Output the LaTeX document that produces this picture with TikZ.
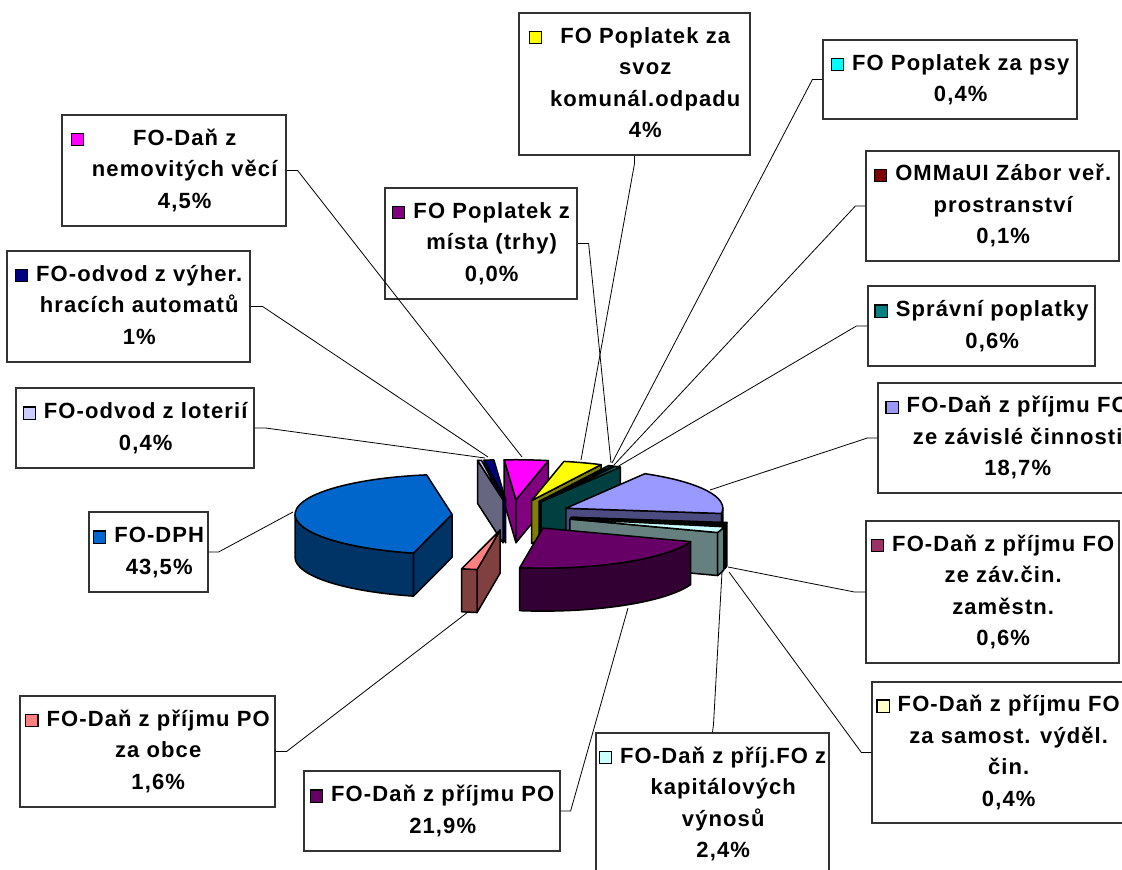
\documentclass[tikz,border=0pt]{standalone}
\usepackage{fontspec}
\setmainfont{Liberation Sans}[LetterSpace=5]
\usetikzlibrary{calc}

\definecolor{cNemov}{HTML}{FF00FF}
\definecolor{cSvoz}{HTML}{FFFF00}
\definecolor{cTrhy}{HTML}{800080}
\definecolor{cPsy}{HTML}{00FFFF}
\definecolor{cZabor}{HTML}{800000}
\definecolor{cSpravni}{HTML}{008080}
\definecolor{cZavisle}{HTML}{9999FF}
\definecolor{cZamestn}{HTML}{993366}
\definecolor{cSamost}{HTML}{FFFFCC}
\definecolor{cKapital}{HTML}{CCFFFF}
\definecolor{cPO}{HTML}{660066}
\definecolor{cObce}{HTML}{FF8080}
\definecolor{cDPH}{HTML}{0066CC}
\definecolor{cLoter}{HTML}{CCCCFF}
\definecolor{cVyher}{HTML}{000080}

% legend key + centred lines
\newcommand{\lkey}[1]{{\fboxsep=0pt\fboxrule=1.2pt\fcolorbox{black}{#1}{\rule{0pt}{11pt}\hspace{11pt}}}\hspace{8pt}}
\newcommand{\lbltext}[2]{\lkey{#1}\begin{tabular}[t]{@{}c@{}}#2\end{tabular}}

\begin{document}
\begin{tikzpicture}[x=1pt,y=1pt]
\tikzstyle{lbl}=[draw=black!80, line width=1.2pt, fill=white, inner sep=0pt,
  font=\fontsize{22}{31.5}\selectfont\bfseries];
\tikzstyle{lead}=[draw, line width=0.8pt];
\tikzstyle{face}=[draw, line width=1.5pt, line join=round];
\useasboundingbox (0,0) rectangle (1122,870);
\fill[white] (0,0) rectangle (1122,870);

% labels
\node (nemov) at (174,699.5) [lbl, minimum width=224, minimum height=111]{\lbltext{cNemov}{FO-Daň z\\nemovitých věcí\\4,5\%}};
\node (vyher) at (128.5,563.5) [lbl, minimum width=243, minimum height=111]{\lbltext{cVyher}{FO-odvod z výher.\\hracích automatů\\1\%}};
\node (loter) at (135,442) [lbl, minimum width=238, minimum height=80]{\lbltext{cLoter}{FO-odvod z loterií\\0,4\%}};
\node (dph) at (148.5,318) [lbl, minimum width=119, minimum height=80]{\lbltext{cDPH}{FO-DPH\\43,5\%}};
\node (obce) at (147.5,118.5) [lbl, minimum width=255, minimum height=111]{\lbltext{cObce}{FO-Daň z příjmu PO\\za obce\\1,6\%}};
\node (po) at (432,59) [lbl, minimum width=256, minimum height=80]{\lbltext{cPO}{FO-Daň z příjmu PO\\21,9\%}};
\node (kapital) at (712.5,66) [lbl, minimum width=233, minimum height=142]{\lbltext{cKapital}{FO-Daň z příj.FO z\\kapitálových\\výnosů\\2,4\%}};
\node (samost) at (998,117.5) [lbl, minimum width=252, minimum height=141]{\lbltext{cSamost}{FO-Daň z příjmu FO\\za samost. výděl.\\čin.\\0,4\%}};
\node (zamestn) at (992.5,278) [lbl, minimum width=253, minimum height=142]{\lbltext{cZamestn}{FO-Daň z příjmu FO\\ze záv.čin.\\zaměstn.\\0,6\%}};
\node (zavisle) at (1007,432) [lbl, minimum width=258, minimum height=110]{\lbltext{cZavisle}{FO-Daň z příjmu FO\\ze závislé činnosti\\18,7\%}};
\node (spravni) at (981.5,544) [lbl, minimum width=227, minimum height=80]{\lbltext{cSpravni}{Správní poplatky\\0,6\%}};
\node (zabor) at (992.5,664) [lbl, minimum width=253, minimum height=110]{\lbltext{cZabor}{OMMaUI Zábor veř.\\prostranství\\0,1\%}};
\node (psy) at (950,790.5) [lbl, minimum width=254, minimum height=79]{\lbltext{cPsy}{FO Poplatek za psy\\0,4\%}};
\node (svoz) at (634.5,786) [lbl, minimum width=231, minimum height=142]{\lbltext{cSvoz}{FO Poplatek za\\svoz\\komunál.odpadu\\4\%}};
\node (trhy) at (481,626.5) [lbl, minimum width=192, minimum height=111]{\lbltext{cTrhy}{FO Poplatek z\\místa (trhy)\\0,0\%}};

% exploded 3D pie, back slices first: start %/end %/colour
\begin{scope}
\foreach \pa/\pb/\pc in {0/4.5/cNemov, 99.1/100.1/cVyher, 98.7/99.1/cLoter,
    4.5/8.5/cSvoz, 8.5/8.9/cPsy, 8.9/9.0/cZabor, 9.0/9.6/cSpravni,
    9.6/28.3/cZavisle, 55.2/98.7/cDPH, 28.3/28.9/cZamestn, 28.9/29.3/cSamost,
    29.3/31.7/cKapital, 31.7/53.6/cPO, 53.6/55.2/cObce}{
  \pgfmathsetmacro\sBeg{94.3-3.5964*\pa}
  \pgfmathsetmacro\sEnd{94.3-3.5964*\pb}
  \pgfmathsetmacro\sMid{(\sBeg+\sEnd)/2}
  \coordinate (A) at ($(512,355)+({60*cos(\sMid)},{15.29*sin(\sMid)})$);
  % cut faces
  \pgfmathtruncatemacro\visA{cos(\sBeg)<0}
  \ifnum\visA=1
    \filldraw[face, fill=\pc!50!black] (A) -- ++({157*cos(\sBeg)},{40*sin(\sBeg)}) -- ++(0,-43) -- ($(A)+(0,-43)$) -- cycle;
  \fi
  \pgfmathtruncatemacro\visB{cos(\sEnd)>0}
  \ifnum\visB=1
    \filldraw[face, fill=\pc!50!black] (A) -- ++({157*cos(\sEnd)},{40*sin(\sEnd)}) -- ++(0,-43) -- ($(A)+(0,-43)$) -- cycle;
  \fi
  % outer wall
  \pgfmathsetmacro\wHi{min(\sBeg,0)}
  \pgfmathsetmacro\wLo{max(\sEnd,-180)}
  \pgfmathtruncatemacro\visW{\wLo<\wHi}
  \ifnum\visW=1
    \filldraw[face, fill=\pc!50!black] (A) ++({157*cos(\wHi)},{40*sin(\wHi)})
      arc[start angle=\wHi, end angle=\wLo, x radius=157, y radius=40] -- ++(0,-43)
      arc[start angle=\wLo, end angle=\wHi, x radius=157, y radius=40] -- cycle;
  \fi
  % top
  \filldraw[face, fill=\pc] (A) -- ++({157*cos(\sBeg)},{40*sin(\sBeg)})
    arc[start angle=\sBeg, end angle=\sEnd, x radius=157, y radius=40] -- cycle;
}
\end{scope}

% leader ends on the slices
\coordinate (p-dph) at (293,358);
\coordinate (p-loter) at (485,412);
\coordinate (p-vyher) at (488,413);
\coordinate (p-nemov) at (522,413);
\coordinate (p-svoz) at (581,410);
\coordinate (p-trhy) at (611,407);
\coordinate (p-psy) at (612,407);
\coordinate (p-zabor) at (614,405);
\coordinate (p-spravni) at (617,403);
\coordinate (p-zavisle) at (710,380);
\coordinate (p-zamestn) at (728,303);
\coordinate (p-samost) at (729,298);
\coordinate (p-kapital) at (722,298);
\coordinate (p-po) at (628,262);
\coordinate (p-obce) at (468,258);

\draw[lead] (nemov.east) -- ++(11,0) -- (p-nemov);
\draw[lead] (vyher.east) -- ++(12,0) -- (p-vyher);
\draw[lead] (loter.east) -- ++(11,0) -- (p-loter);
\draw[lead] (dph.east) -- ++(10,0) -- (p-dph);
\draw[lead] (obce.east) -- ++(11,0) -- (p-obce);
\draw[lead] (po.east) -- ++(10,0) -- (p-po);
\draw[lead] (kapital.north) -- ++(1,8) -- (p-kapital);
\draw[lead] (samost.west) -- ++(-10,0) -- (p-samost);
\draw[lead] (zamestn.west) -- ++(-11,0) -- (p-zamestn);
\draw[lead] (zavisle.west) -- ++(-10,0) -- (p-zavisle);
\draw[lead] (spravni.west) -- ++(-11,0) -- (p-spravni);
\draw[lead] (zabor.west) -- ++(-10,0) -- (p-zabor);
\draw[lead] (psy.west) -- ++(-10,0) -- (p-psy);
\draw[lead] (svoz.south) -- ++(0,-8) -- (p-svoz);
\draw[lead] (trhy.east) -- ++(11,0) -- (p-trhy);
\end{tikzpicture}
\end{document}
